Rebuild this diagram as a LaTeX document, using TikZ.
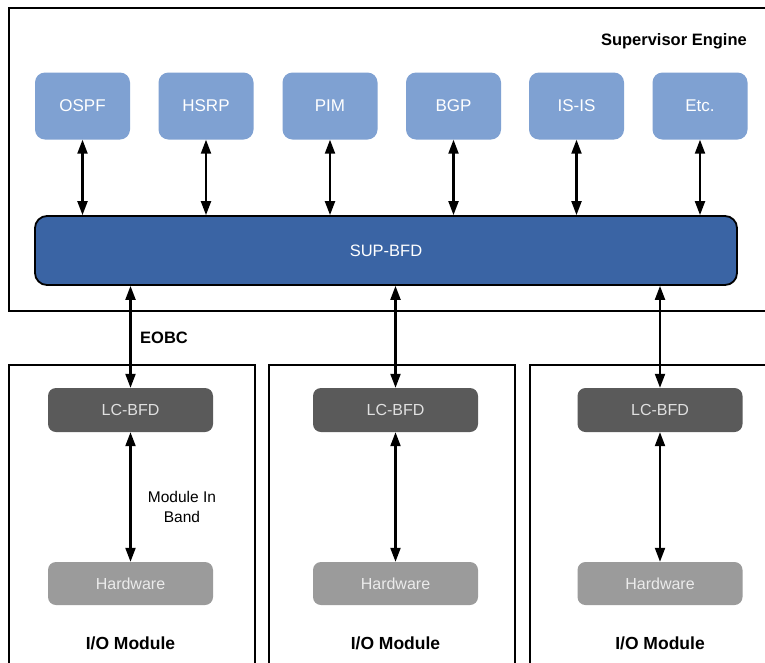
\documentclass[tikz,border=0pt]{standalone}
\usepackage{fontspec}
\setmainfont{Liberation Sans}
\usetikzlibrary{arrows.meta}
\definecolor{protoblue}{HTML}{7FA1D2}
\definecolor{supblue}{HTML}{3A64A4}
\definecolor{lcgray}{HTML}{5A5A5A}
\definecolor{hwgray}{HTML}{9B9B9B}
\tikzset{
  frame/.style={draw=black, line width=2.4pt, inner sep=0pt, anchor=north west},
  proto/.style={fill=protoblue, rounded corners=10pt, minimum width=95pt, minimum height=67pt,
    text=white, font=\fontsize{17}{19}\selectfont, inner sep=0pt},
  supbox/.style={fill=supblue, draw=black, line width=1.8pt, rounded corners=12pt,
    minimum width=702pt, minimum height=69pt, text=white, font=\fontsize{16.5}{18}\selectfont, inner sep=0pt},
  lcbox/.style={fill=lcgray, rounded corners=8pt, minimum width=165pt, minimum height=44pt,
    text=white!88!black, font=\fontsize{16}{18}\selectfont, inner sep=0pt},
  hwbox/.style={fill=hwgray, rounded corners=8pt, minimum width=165pt, minimum height=43pt,
    text=white!92!black, font=\fontsize{16}{18}\selectfont, inner sep=0pt},
  tag/.style={font=\bfseries\fontsize{16.5}{18}\selectfont, inner sep=0pt},
  note/.style={font=\fontsize{15.5}{20}\selectfont, align=center, inner sep=0pt},
  link/.style={line width=2.1pt, {Triangle[length=14pt,width=10pt]}-{Triangle[length=14pt,width=10pt]}}
}
\begin{document}
\begin{tikzpicture}[x=1pt, y=-1pt]
\useasboundingbox (0,0) rectangle (765,662);
\clip (0,0) rectangle (765,662);
\fill[white] (0,0) rectangle (765,662);

% supervisor engine frame and the three I/O module frames (cut off by the page edge)
\node[frame, minimum width=790pt, minimum height=303pt] (sup) at (8,7) {};
\node[frame, minimum width=246pt, minimum height=320pt] (io1) at (8,364) {};
\node[frame, minimum width=246pt, minimum height=320pt] (io2) at (268,364) {};
\node[frame, minimum width=260pt, minimum height=320pt] (io3) at (529,364) {};

\node[tag, anchor=east] (suptitle) at (747,41) {Supervisor Engine};

% routing protocol clients
\node[proto] (ospf) at (82.5,106) {OSPF};
\node[proto] (hsrp) at (206,106) {HSRP};
\node[proto] (pim)  at (330,106) {PIM};
\node[proto] (bgp)  at (453.5,106) {BGP};
\node[proto] (isis) at (576.5,106) {IS-IS};
\node[proto] (etc)  at (700,106) {Etc.};

\node[supbox] (supbfd) at (386,250.5) {SUP-BFD};

\foreach \p in {ospf,hsrp,pim,bgp,isis,etc}
  \draw[link] (\p.south) -- (\p.south |- supbfd.north);

% line card BFD and hardware
\node[lcbox] (lc1) at (130.5,410) {LC-BFD};
\node[lcbox] (lc2) at (395.5,410) {LC-BFD};
\node[lcbox] (lc3) at (660,410) {LC-BFD};
\node[hwbox] (hw1) at (130.5,583.5) {Hardware};
\node[hwbox] (hw2) at (395.5,583.5) {Hardware};
\node[hwbox] (hw3) at (660,583.5) {Hardware};

\foreach \i in {1,2,3} {
  \draw[link] (lc\i.north |- supbfd.south) -- (lc\i.north);
  \draw[link] (lc\i.south) -- (hw\i.north);
  \node[tag, font=\bfseries\fontsize{17.5}{20}\selectfont] (iolabel\i) at (hw\i.center |- 0,643) {I/O Module};
}

\node[tag] (eobc) at (164,338) {EOBC};
\node[note] (inband) at (182,507) {Module In\\Band};
\end{tikzpicture}
\end{document}
